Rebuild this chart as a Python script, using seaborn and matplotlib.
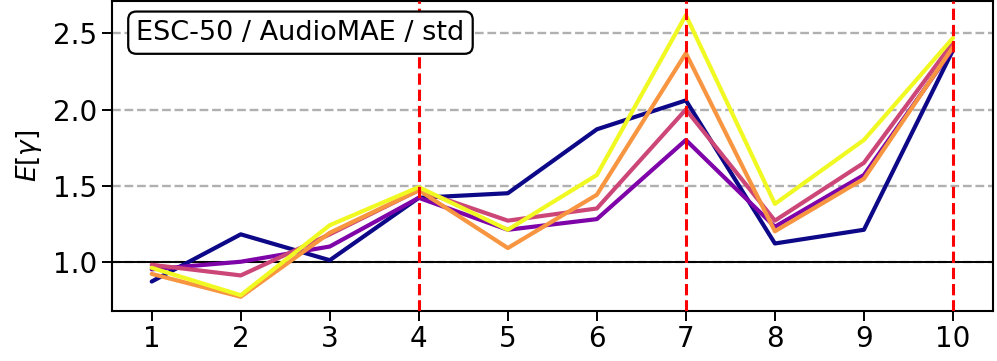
import numpy as np
import pandas as pd
import seaborn as sns
import matplotlib
matplotlib.use("Agg")
import matplotlib.pyplot as plt

# x positions (layers / steps)
steps = [1, 2, 3, 4, 5, 6, 7, 8, 9, 10]
# five series, coloured along the plasma colormap
series_names = ["s1", "s2", "s3", "s4", "s5"]
s1 = [0.87, 1.18, 1.01, 1.42, 1.45, 1.87, 2.06, 1.12, 1.21, 2.39]
s2 = [0.95, 1.00, 1.10, 1.42, 1.21, 1.28, 1.80, 1.23, 1.57, 2.40]
s3 = [0.98, 0.91, 1.18, 1.47, 1.27, 1.35, 2.00, 1.27, 1.65, 2.44]
s4 = [0.92, 0.77, 1.19, 1.47, 1.09, 1.44, 2.37, 1.20, 1.545, 2.41]
s5 = [0.96, 0.78, 1.24, 1.49, 1.21, 1.57, 2.62, 1.38, 1.80, 2.47]
marked_steps = [4, 7, 10]
label = "ESC-50 / AudioMAE / std"

df = pd.DataFrame({
    "step": steps * 5,
    "value": s1 + s2 + s3 + s4 + s5,
    "series": sum([[n] * len(steps) for n in series_names], []),
})

sns.set_style("ticks")
plt.rcParams["font.family"] = ["DejaVu Sans"]
plt.rcParams["text.color"] = "black"
plt.rcParams["axes.labelcolor"] = "black"
plt.rcParams["xtick.color"] = "black"
plt.rcParams["ytick.color"] = "black"

# full plasma range, endpoints included
colors = [plt.cm.plasma(v) for v in np.linspace(0, 1, len(series_names))]

fig, ax = plt.subplots(figsize=(9.97, 3.61), dpi=100)
fig.subplots_adjust(left=0.112, right=0.996, bottom=0.139, top=0.997)

# y grid (dashed grey) and reference line at 1
ax.yaxis.grid(True, linestyle="--", color="#b0b0b0", linewidth=1.7)
ax.set_axisbelow(True)
ax.axhline(1.0, color="black", linewidth=1.4, zorder=1)

sns.lineplot(data=df, x="step", y="value", hue="series", palette=colors,
             linewidth=3.0, legend=False, ax=ax, zorder=3)

for s in marked_steps:
    ax.axvline(s, color="red", linestyle="--", linewidth=2.2, zorder=4)

ax.set_xticks(steps)
ax.set_yticks([1.0, 1.5, 2.0, 2.5])
ax.set_xlabel("")
ax.set_ylabel(r"$E[\gamma]$", fontsize=19, labelpad=6)
ax.tick_params(labelsize=20, length=7, width=1.4)
for sp in ax.spines.values():
    sp.set_linewidth(1.5)
    sp.set_color("black")

ax.text(0.028, 0.898, label, transform=ax.transAxes, fontsize=19.5, va="center", ha="left",
        bbox=dict(boxstyle="round,pad=0.3", facecolor="white", edgecolor="black", linewidth=1.6),
        zorder=5)

fig.savefig("out.png", dpi=100)
